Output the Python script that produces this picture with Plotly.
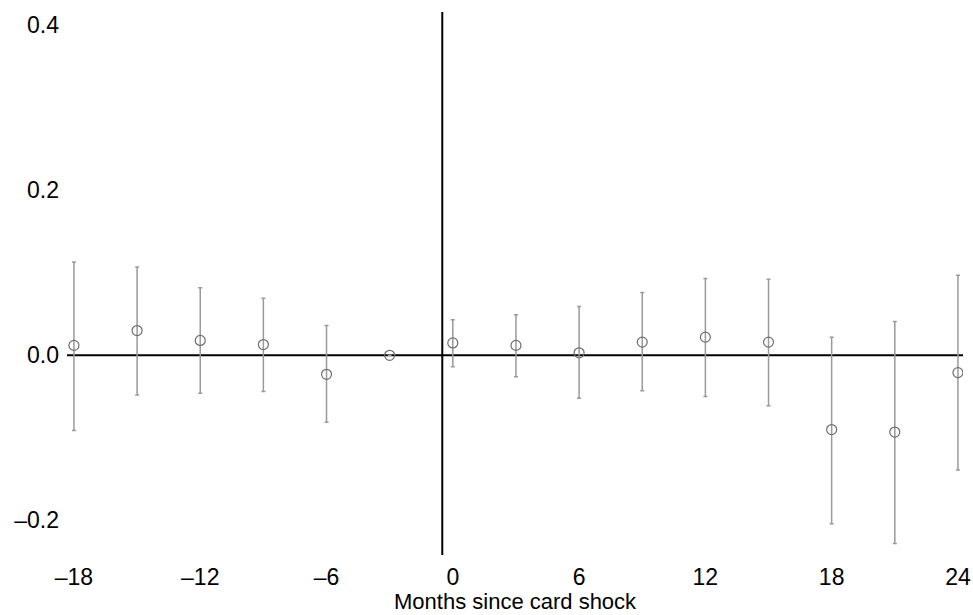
import plotly.graph_objects as go

# Event-study estimates by months relative to the card shock
months = [-18, -15, -12, -9, -6, -3, 0, 3, 6, 9, 12, 15, 18, 21, 24]
estimate = [0.012, 0.030, 0.018, 0.013, -0.023, 0.0, 0.015, 0.012, 0.003,
            0.016, 0.022, 0.016, -0.090, -0.093, -0.021]
ci_upper = [0.113, 0.107, 0.082, 0.069, 0.036, 0.0, 0.043, 0.049, 0.059,
            0.076, 0.093, 0.092, 0.022, 0.041, 0.097]
ci_lower = [-0.091, -0.048, -0.046, -0.044, -0.081, 0.0, -0.014, -0.026, -0.052,
            -0.043, -0.050, -0.061, -0.204, -0.228, -0.139]

x_ticks = [-18, -12, -6, 0, 6, 12, 18, 24]
x_ticklabels = ["–18", "–12", "–6", "0", "6", "12", "18", "24"]
y_ticks = [-0.2, 0.0, 0.2, 0.4]
y_ticklabels = ["–0.2", "0.0", "0.2", "0.4"]
x_title = "Months since card shock"

x_range = [-18.33, 24.24]
y_range = [-0.242, 0.416]
event_line_x = -0.5

err_plus = [u - e for u, e in zip(ci_upper, estimate)]
err_minus = [e - l for e, l in zip(estimate, ci_lower)]

fig = go.Figure()

# Reference lines: zero effect and the event date
fig.add_shape(type="line", xref="x", yref="y", x0=x_range[0], x1=x_range[1],
              y0=0, y1=0, line=dict(color="black", width=2), layer="below")
fig.add_shape(type="line", xref="x", yref="paper", x0=event_line_x, x1=event_line_x,
              y0=0, y1=1, line=dict(color="black", width=2), layer="below")

fig.add_trace(go.Scatter(
    x=months, y=estimate, mode="markers",
    marker=dict(symbol="circle-open", size=10, color="#6e6e6e", line=dict(width=1.2)),
    error_y=dict(type="data", symmetric=False, array=err_plus, arrayminus=err_minus,
                 color="#9a9a9a", thickness=1.5, width=2),
    showlegend=False,
))

font = dict(family="Liberation Sans, Arial, sans-serif", size=23, color="black")
title_font = dict(family="Liberation Sans, Arial, sans-serif", size=22, color="black")

# x-axis title placed as a paper annotation just under the tick labels
fig.add_annotation(text=x_title, xref="paper", yref="paper", x=0.5, y=0,
                   xanchor="center", yanchor="top", yshift=-32,
                   showarrow=False, font=title_font)

fig.update_layout(
    width=973, height=615,
    margin=dict(l=67, r=10, t=12, b=60, autoexpand=False),
    paper_bgcolor="white", plot_bgcolor="white",
    font=font,
    xaxis=dict(range=x_range, tickvals=x_ticks, ticktext=x_ticklabels,
               tickfont=font, automargin=False,
               showgrid=False, zeroline=False, showline=False, ticks="",
               ticklabelstandoff=6),
    yaxis=dict(range=y_range, tickvals=y_ticks, ticktext=y_ticklabels,
               tickfont=font, automargin=False,
               showgrid=False, zeroline=False, showline=False, ticks="",
               ticklabelstandoff=7),
)

fig.write_html("out.html")
